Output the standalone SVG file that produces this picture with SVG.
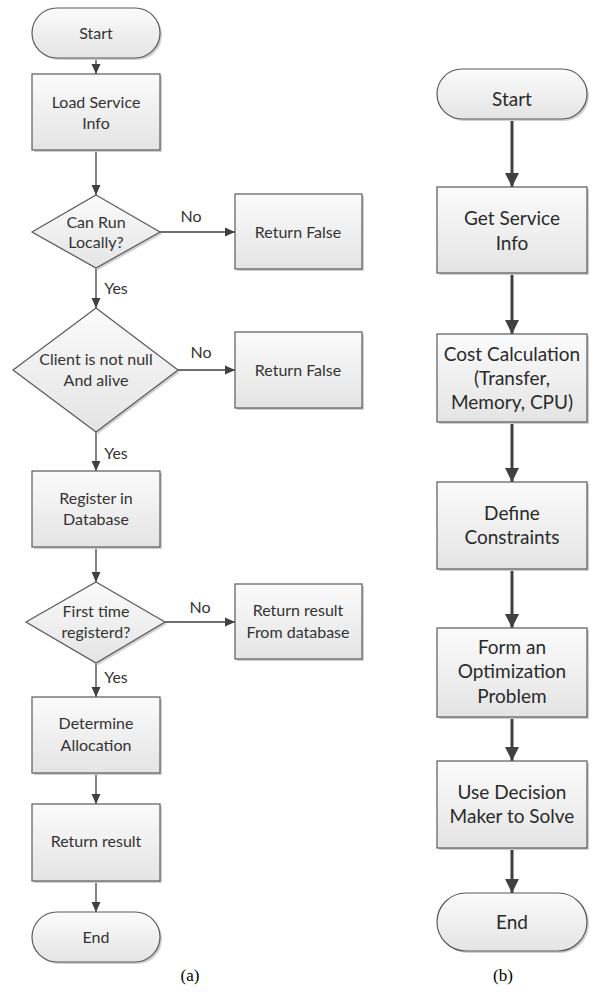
<svg xmlns="http://www.w3.org/2000/svg" width="595" height="994" viewBox="0 0 595 994">
<style>
.s{fill:url(#g);stroke:#5a5a5a;stroke-width:1.2}
.sh{fill:#cfcfcf}
.t{font-family:Lato,"Liberation Sans",sans-serif;font-size:16px;fill:#333;text-anchor:middle}
.tb{font-family:Lato,"Liberation Sans",sans-serif;font-size:19px;fill:#2a2a2a;text-anchor:middle}
.cap{font-family:"Liberation Serif",serif;font-size:17px;fill:#000;text-anchor:middle}
.c1{stroke:#404040;stroke-width:1.3;fill:none;marker-end:url(#a1)}
.c2{stroke:#404040;stroke-width:3;fill:none;marker-end:url(#a2)}
</style>
<defs>
<linearGradient id="g" x1="0" y1="0" x2="0" y2="1">
<stop offset="0" stop-color="#fbfbfb"/>
<stop offset="1" stop-color="#e4e4e4"/>
</linearGradient>
<marker id="a1" markerUnits="userSpaceOnUse" markerWidth="12" markerHeight="12" viewBox="0 0 12 12" refX="11" refY="6" orient="auto">
<path d="M1,1.5 L11,6 L1,10.5 Z" fill="#404040"/>
</marker>
<marker id="a2" markerUnits="userSpaceOnUse" markerWidth="16" markerHeight="16" viewBox="0 0 16 16" refX="15" refY="8" orient="auto">
<path d="M1,1 L15,8 L1,15 Z" fill="#404040"/>
</marker>
</defs>
<rect width="595" height="994" fill="#fff"/>

<g id="connectors">
<line class="c1" x1="96" y1="58" x2="96" y2="74"/>
<line class="c1" x1="96" y1="150" x2="96" y2="195"/>
<line class="c1" x1="96" y1="268" x2="96" y2="308"/>
<line class="c1" x1="160" y1="232" x2="235" y2="232"/>
<line class="c1" x1="178" y1="370" x2="235" y2="370"/>
<line class="c1" x1="96" y1="432" x2="96" y2="471"/>
<line class="c1" x1="96" y1="547" x2="96" y2="582"/>
<line class="c1" x1="165" y1="622" x2="235" y2="622"/>
<line class="c1" x1="96" y1="663" x2="96" y2="697"/>
<line class="c1" x1="96" y1="773" x2="96" y2="804"/>
<line class="c1" x1="96" y1="881" x2="96" y2="912"/>
<text class="t" x="191" y="222">No</text>
<text class="t" x="116" y="294">Yes</text>
<text class="t" x="201" y="358">No</text>
<text class="t" x="116" y="459">Yes</text>
<text class="t" x="200" y="613">No</text>
<text class="t" x="116" y="683">Yes</text>
<line class="c2" x1="512" y1="119" x2="512" y2="187"/>
<line class="c2" x1="512" y1="273" x2="512" y2="334"/>
<line class="c2" x1="512" y1="422" x2="512" y2="482"/>
<line class="c2" x1="512" y1="569" x2="512" y2="628"/>
<line class="c2" x1="512" y1="717" x2="512" y2="761"/>
<line class="c2" x1="512" y1="848" x2="512" y2="893"/>
</g>

<g id="a_start">
<rect class="sh" x="34" y="10" width="128" height="50" rx="25"/>
<rect class="s" x="32" y="8" width="128" height="50" rx="25"/>
<text class="t" x="96" y="39">Start</text>
</g>
<g id="a_load">
<rect class="sh" x="34" y="76" width="128" height="76"/>
<rect class="s" x="32" y="74" width="128" height="76"/>
<text class="t" x="96" y="108">Load Service</text>
<text class="t" x="96" y="129">Info</text>
</g>
<g id="a_d1">
<path class="sh" d="M98,197 L162,234 L98,270 L34,234 Z"/>
<path class="s" d="M96,195 L160,232 L96,268 L32,232 Z"/>
<text class="t" x="96" y="228">Can Run</text>
<text class="t" x="96" y="248">Locally?</text>
</g>
<g id="a_rf1">
<rect class="sh" x="237" y="196" width="127" height="75"/>
<rect class="s" x="235" y="194" width="127" height="75"/>
<text class="t" x="298" y="238">Return False</text>
</g>
<g id="a_d2">
<path class="sh" d="M98,310 L180,372 L98,434 L15,372 Z"/>
<path class="s" d="M96,308 L178,370 L96,432 L13,370 Z"/>
<text class="t" x="96" y="365">Client is not null</text>
<text class="t" x="96" y="386">And alive</text>
</g>
<g id="a_rf2">
<rect class="sh" x="237" y="334" width="127" height="76"/>
<rect class="s" x="235" y="332" width="127" height="76"/>
<text class="t" x="298" y="376">Return False</text>
</g>
<g id="a_reg">
<rect class="sh" x="34" y="473" width="128" height="76"/>
<rect class="s" x="32" y="471" width="128" height="76"/>
<text class="t" x="96" y="504">Register in</text>
<text class="t" x="96" y="525">Database</text>
</g>
<g id="a_d3">
<path class="sh" d="M98,584 L167,624 L98,665 L28,624 Z"/>
<path class="s" d="M96,582 L165,622 L96,663 L26,622 Z"/>
<text class="t" x="96" y="617">First time</text>
<text class="t" x="96" y="638">registerd?</text>
</g>
<g id="a_rr">
<rect class="sh" x="237" y="586" width="127" height="75"/>
<rect class="s" x="235" y="584" width="127" height="75"/>
<text class="t" x="298" y="616">Return result</text>
<text class="t" x="298" y="638">From database</text>
</g>
<g id="a_det">
<rect class="sh" x="34" y="699" width="128" height="76"/>
<rect class="s" x="32" y="697" width="128" height="76"/>
<text class="t" x="96" y="729">Determine</text>
<text class="t" x="96" y="751">Allocation</text>
</g>
<g id="a_ret">
<rect class="sh" x="34" y="806" width="128" height="77"/>
<rect class="s" x="32" y="804" width="128" height="77"/>
<text class="t" x="96" y="847">Return result</text>
</g>
<g id="a_end">
<rect class="sh" x="34" y="914" width="128" height="50" rx="25"/>
<rect class="s" x="32" y="912" width="128" height="50" rx="25"/>
<text class="t" x="96" y="943">End</text>
</g>

<g id="b_start">
<rect class="sh" x="439" y="71" width="150" height="50" rx="25"/>
<rect class="s" x="437" y="69" width="150" height="50" rx="25"/>
<text class="tb" x="512" y="106">Start</text>
</g>
<g id="b_get">
<rect class="sh" x="439" y="189" width="150" height="86"/>
<rect class="s" x="437" y="187" width="150" height="86"/>
<text class="tb" x="512" y="225">Get Service</text>
<text class="tb" x="512" y="250">Info</text>
</g>
<g id="b_cost">
<rect class="sh" x="439" y="336" width="150" height="88"/>
<rect class="s" x="437" y="334" width="150" height="88"/>
<text class="tb" x="512" y="361">Cost Calculation</text>
<text class="tb" x="512" y="385">(Transfer,</text>
<text class="tb" x="512" y="409">Memory, CPU)</text>
</g>
<g id="b_def">
<rect class="sh" x="439" y="484" width="150" height="87"/>
<rect class="s" x="437" y="482" width="150" height="87"/>
<text class="tb" x="512" y="520">Define</text>
<text class="tb" x="512" y="544">Constraints</text>
</g>
<g id="b_form">
<rect class="sh" x="439" y="630" width="150" height="89"/>
<rect class="s" x="437" y="628" width="150" height="89"/>
<text class="tb" x="512" y="654">Form an</text>
<text class="tb" x="512" y="678">Optimization</text>
<text class="tb" x="512" y="703">Problem</text>
</g>
<g id="b_use">
<rect class="sh" x="439" y="763" width="150" height="87"/>
<rect class="s" x="437" y="761" width="150" height="87"/>
<text class="tb" x="512" y="799">Use Decision</text>
<text class="tb" x="512" y="823">Maker to Solve</text>
</g>
<g id="b_end">
<rect class="sh" x="439" y="895" width="150" height="58" rx="29"/>
<rect class="s" x="437" y="893" width="150" height="58" rx="29"/>
<text class="tb" x="512" y="929">End</text>
</g>

<text class="cap" x="190" y="981">(a)</text>
<text class="cap" x="503" y="981">(b)</text>
</svg>
